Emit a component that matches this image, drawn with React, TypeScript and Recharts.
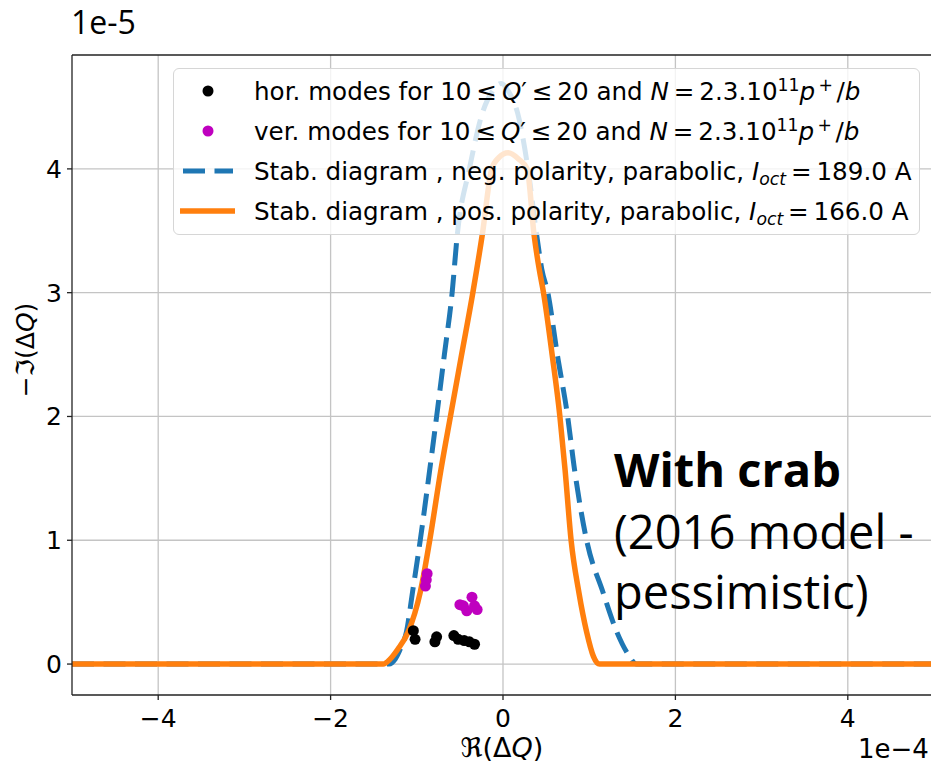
import React from "react";
import {
  ComposedChart,
  Line,
  Scatter,
  XAxis,
  YAxis,
  CartesianGrid,
  ReferenceLine,
  Legend,
} from "recharts";

// x in units of 1e-4, y in units of 1e-5
const negX = [
  -5, -1.32, -1.25, -1.18, -1.12, -1.05, -0.96, -0.85, -0.77, -0.68, -0.59,
  -0.53, -0.39, -0.24, -0.12, -0.02, 0.07, 0.17, 0.29, 0.39, 0.45, 0.52, 0.63,
  0.75, 0.83, 0.97, 1.16, 1.32, 1.45, 1.55, 5,
];
const negY = [
  0, 0, 0.04, 0.14, 0.26, 0.58, 1.0, 1.57, 2.0, 2.5, 3.0, 3.47, 4.0, 4.45,
  4.63, 4.69, 4.62, 4.45, 4.0, 3.47, 3.19, 3.0, 2.5, 2.0, 1.57, 1.0, 0.58,
  0.26, 0.08, 0, 0,
];

const posX = [
  -5, -1.39, -1.31, -1.22, -1.1, -0.96, -0.85, -0.72, -0.61, -0.48, -0.35,
  -0.24, -0.13, -0.05, 0.06, 0.18, 0.28, 0.36, 0.42, 0.47, 0.57, 0.66, 0.72,
  0.79, 0.88, 0.97, 1.05, 1.12, 5,
];
const posY = [
  0, 0, 0.04, 0.12, 0.26, 0.58, 1.0, 1.57, 2.0, 2.5, 3.0, 3.47, 4.0, 4.09,
  4.13, 4.08, 4.0, 3.47, 3.19, 3.0, 2.5, 2.0, 1.57, 1.0, 0.58, 0.26, 0.06, 0,
  0,
];

const horX = [-1.04, -1.02, -0.79, -0.77, -0.57, -0.52, -0.45, -0.39, -0.33];
const horY = [0.27, 0.2, 0.18, 0.22, 0.23, 0.2, 0.19, 0.18, 0.16];

const verX = [-0.88, -0.9, -0.89, -0.5, -0.46, -0.42, -0.36, -0.33, -0.3];
const verY = [0.73, 0.63, 0.68, 0.48, 0.47, 0.43, 0.54, 0.47, 0.44];

const xTicks = [-4, -2, 0, 2, 4];
const yTicks = [0, 1, 2, 3, 4];

const BLUE = "#1f77b4";
const ORANGE = "#ff7f0e";
const MAGENTA = "#bf00bf";
const FONT = "'DejaVu Sans', sans-serif";

const zip = (xs: number[], ys: number[]) => xs.map((x, i) => ({ x, y: ys[i] }));

const fmt = (v: number) => (v < 0 ? `\u2212${Math.abs(v)}` : `${v}`);

const sup: React.CSSProperties = {
  fontSize: "0.7em",
  verticalAlign: "0.55em",
  lineHeight: 0,
};
const sub: React.CSSProperties = {
  fontSize: "0.7em",
  verticalAlign: "-0.3em",
  lineHeight: 0,
  fontStyle: "italic",
};

const modesText = (kind: string) => (
  <>
    {kind} modes for 10{"\u2009≤\u2009"}
    <i>Q</i>′{"\u2009≤\u2009"}20 and <i>N</i>
    {"\u2009=\u2009"}2.3.10<span style={sup}>11</span>
    <i>p</i>
    <span style={sup}>{"\u2009+\u2009"}</span>/<i>b</i>
  </>
);

const stabText = (pol: string, current: string) => (
  <>
    Stab. diagram , {pol} polarity, parabolic, <i>I</i>
    <span style={sub}>oct</span>
    {"\u2009=\u2009"}
    {current} A
  </>
);

function LegendBox() {
  const rows = [
    {
      marker: <circle cx={34} cy={20} r={5.5} fill="#000" />,
      label: modesText("hor."),
    },
    {
      marker: <circle cx={34} cy={20} r={5.5} fill={MAGENTA} />,
      label: modesText("ver."),
    },
    {
      marker: (
        <line
          x1={9}
          x2={59}
          y1={20}
          y2={20}
          stroke={BLUE}
          strokeWidth={5}
          strokeDasharray="22 9.5"
        />
      ),
      label: stabText("neg.", "189.0"),
    },
    {
      marker: (
        <line x1={6} x2={61} y1={20} y2={20} stroke={ORANGE} strokeWidth={5.5} />
      ),
      label: stabText("pos.", "166.0"),
    },
  ];
  return (
    <div
      style={{
        width: 747,
        height: 167,
        boxSizing: "border-box",
        border: "1.5px solid #d6d6d6",
        borderRadius: 6,
        background: "rgba(255,255,255,0.8)",
        paddingTop: 2,
        fontFamily: FONT,
        fontSize: 24.6,
        color: "#000",
      }}
    >
      {rows.map((r, i) => (
        <div
          key={i}
          style={{ display: "flex", alignItems: "center", height: 40 }}
        >
          <svg width={80} height={40} style={{ flex: "none" }}>
            {r.marker}
          </svg>
          <span style={{ whiteSpace: "nowrap" }}>{r.label}</span>
        </div>
      ))}
    </div>
  );
}

const dot = (color: string) => (props: any) =>
  <circle cx={props.cx} cy={props.cy} r={5.5} fill={color} />;

export default function App() {
  return (
    <div
      style={{
        position: "absolute",
        left: 0,
        top: 0,
        width: 931,
        height: 764,
        overflow: "hidden",
        background: "#fff",
      }}
    >
      <ComposedChart
        width={960}
        height={764}
        margin={{ top: 55, right: 26, left: 0, bottom: 0 }}
      >
        <CartesianGrid
          stroke="#c4c4c4"
          strokeWidth={1.3}
          horizontalValues={yTicks}
          verticalValues={xTicks}
        />
        <XAxis
          type="number"
          dataKey="x"
          domain={[-5, 5]}
          ticks={xTicks}
          allowDataOverflow
          height={69}
          tickSize={5}
          tickMargin={9}
          tickFormatter={fmt}
          stroke="#222"
          strokeWidth={1.3}
          tick={{ fontSize: 25, fill: "#000", fontFamily: FONT }}
        />
        <YAxis
          type="number"
          domain={[-0.25, 4.92]}
          ticks={yTicks}
          allowDataOverflow
          width={72}
          tickSize={5}
          tickMargin={5}
          tickFormatter={fmt}
          stroke="#222"
          strokeWidth={1.3}
          tick={{ fontSize: 25, fill: "#000", fontFamily: FONT }}
        />
        <ReferenceLine y={4.92} stroke="#222" strokeWidth={1.3} />
        <Scatter
          name="hor"
          data={zip(horX, horY)}
          dataKey="y"
          fill="#000"
          shape={dot("#000")}
          isAnimationActive={false}
        />
        <Scatter
          name="ver"
          data={zip(verX, verY)}
          dataKey="y"
          fill={MAGENTA}
          shape={dot(MAGENTA)}
          isAnimationActive={false}
        />
        <Line
          name="neg"
          data={zip(negX, negY)}
          dataKey="y"
          type="monotone"
          stroke={BLUE}
          strokeWidth={5}
          strokeDasharray="22 9.5"
          dot={false}
          activeDot={false}
          isAnimationActive={false}
        />
        <Line
          name="pos"
          data={zip(posX, posY)}
          dataKey="y"
          type="monotone"
          stroke={ORANGE}
          strokeWidth={5.5}
          dot={false}
          activeDot={false}
          isAnimationActive={false}
        />
        <Legend
          layout="horizontal"
          verticalAlign="middle"
          align="center"
          content={() => <LegendBox />}
          wrapperStyle={{ left: 173, top: 68, width: 747, height: 167 }}
        />
        <text
          x={502}
          y={757}
          textAnchor="middle"
          fontFamily={FONT}
          fontSize={27}
          fill="#000"
        >
          ℜ(Δ<tspan fontStyle="italic">Q</tspan>)
        </text>
        <text
          x={25}
          y={350}
          textAnchor="middle"
          dominantBaseline="central"
          transform="rotate(-90, 25, 350)"
          fontFamily={FONT}
          fontSize={25}
          fill="#000"
        >
          −ℑ(Δ<tspan fontStyle="italic">Q</tspan>)
        </text>
        <text x={858} y={758} fontFamily={FONT} fontSize={26} fill="#000">
          1e−4
        </text>
        <text x={71} y={34} fontFamily="'Open Sans', sans-serif" fontSize={32} fill="#000">
          1e-5
        </text>
        <g fontFamily="'Open Sans', sans-serif" fontSize={47} fill="#000">
          <text x={614} y={487} fontWeight={700}>
            With crab
          </text>
          <text x={614} y={549}>
            (2016 model -
          </text>
          <text x={614} y={609}>
            pessimistic)
          </text>
        </g>
      </ComposedChart>
    </div>
  );
}
